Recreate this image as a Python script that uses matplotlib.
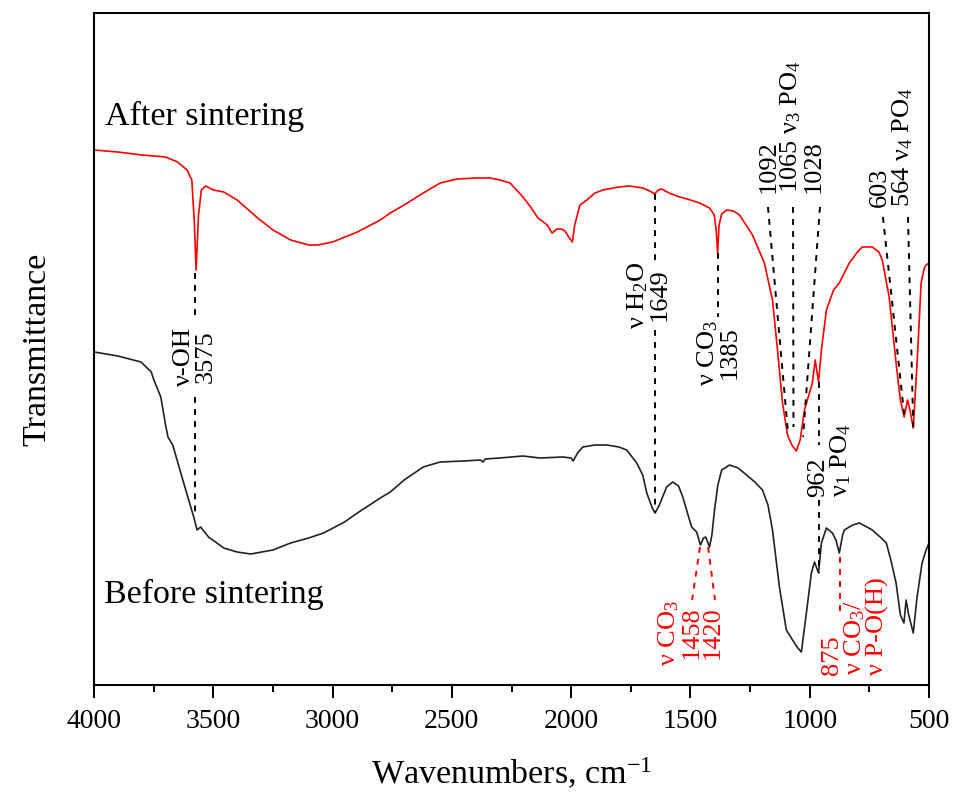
import numpy as np
import matplotlib
matplotlib.use("Agg")
import matplotlib.pyplot as plt
from matplotlib.ticker import MultipleLocator

plt.rcParams['font.family'] = ['Liberation Serif', 'DejaVu Serif']
plt.rcParams['mathtext.fontset'] = 'custom'
plt.rcParams['mathtext.rm'] = 'Liberation Serif'
plt.rcParams['mathtext.it'] = 'Liberation Serif:italic'
plt.rcParams['mathtext.bf'] = 'Liberation Serif:bold'

# FTIR spectra (transmittance in arbitrary units)
after_wn = [4000, 3900, 3800, 3700, 3650, 3610, 3590, 3580, 3572, 3562, 3550, 3532, 3500,
            3456, 3400, 3314, 3250, 3176, 3100, 3063, 3000, 2896, 2800, 2758, 2700, 2620,
            2549, 2478, 2400, 2340, 2300, 2256, 2202, 2170, 2139, 2100, 2080, 2060, 2040,
            2026, 2010, 1995, 1985, 1963, 1934, 1900, 1867, 1800, 1754, 1700, 1670, 1650,
            1635, 1620, 1590, 1545, 1500, 1461, 1420, 1400, 1392, 1386, 1380, 1369, 1348,
            1320, 1294, 1240, 1190, 1156, 1135, 1114, 1093, 1075, 1056, 1040, 1022, 1000,
            989, 977, 963, 951, 930, 900, 876, 834, 800, 780, 738, 710, 696, 667, 638, 620,
            604, 590, 580, 566, 554, 545, 533, 520, 512, 500]
after_t = [535, 533, 530, 528, 523, 515, 505, 465, 415, 470, 495, 499, 495,
           493, 485, 467, 455, 445, 440, 440, 443, 453, 465, 472, 480, 492,
           502, 506, 507, 507, 505, 502, 488, 478, 467, 460, 452, 456, 456,
           454, 448, 443, 460, 480, 485, 492, 495, 498, 499, 497, 494, 491,
           495, 496, 492, 488, 485, 482, 477, 470, 455, 432, 460, 471, 475,
           474, 470, 450, 422, 385, 335, 282, 250, 240, 234, 245, 275, 293,
           302, 325, 303, 335, 375, 395, 402, 422, 433, 438, 438, 433, 425, 388, 322, 285,
           268, 285, 275, 257, 305, 345, 402, 417, 420, 422]

before_wn = [4000, 3950, 3900, 3803, 3760, 3749, 3720, 3700, 3690, 3670, 3624, 3582, 3568,
             3553, 3520, 3456, 3400, 3343, 3250, 3176, 3100, 3038, 2950, 2896, 2800, 2758,
             2700, 2620, 2549, 2450, 2380, 2369, 2360, 2300, 2202, 2131, 2034, 2000, 1992,
             1970, 1951, 1900, 1850, 1800, 1767, 1725, 1700, 1683, 1660, 1648, 1630, 1600,
             1574, 1550, 1532, 1510, 1495, 1474, 1458, 1445, 1436, 1420, 1410, 1399, 1385,
             1369, 1336, 1300, 1265, 1230, 1198, 1175, 1156, 1127, 1098, 1072, 1050, 1035,
             1014, 993, 980, 963, 951, 930, 905, 890, 876, 862, 855, 820, 792, 760, 738, 700,
             679, 660, 638, 620, 605, 596, 585, 566, 550, 529, 512, 500]
before_t = [333, 331, 329, 323, 313, 305, 288, 260, 248, 240, 202, 168, 155,
            158, 148, 137, 133, 131, 135, 142, 147, 152, 163, 172, 187, 193,
            205, 218, 223, 224, 225, 223, 226, 227, 229, 227, 228, 227, 224,
            233, 238, 240, 240, 238, 235, 222, 210, 192, 177, 172, 180, 198,
            203, 199, 188, 170, 158, 153, 140, 147, 148, 138, 150, 175, 200,
            215, 220, 217, 210, 203, 195, 180, 155, 98, 55, 45, 37, 33,
            72, 112, 123, 112, 142, 157, 152, 145, 132, 150, 155, 160, 162, 158, 155, 147,
            142, 125, 102, 70, 62, 85, 70, 52, 88, 122, 135, 142]

fig = plt.figure(figsize=(9.58, 7.94), dpi=100)
ax = fig.add_axes([94 / 958, 109 / 794, 835 / 958, 672 / 794])

ax.plot(after_wn, after_t, color='#ff0000', lw=1.2)
ax.plot(before_wn, before_t, color='#222222', lw=1.2)

ax.set_xlim(4000, 500)
ax.set_ylim(0, 672)
ax.xaxis.set_major_locator(MultipleLocator(500))
ax.xaxis.set_minor_locator(MultipleLocator(250))
ax.tick_params(axis='x', which='major', direction='out', length=9.5, width=1.4,
               labelsize=20, pad=8)
ax.tick_params(axis='x', which='minor', direction='out', length=5, width=1.4)
ax.set_yticks([])
for sp in ax.spines.values():
    sp.set_linewidth(1.5)

ax.set_xlabel('Wavenumbers, cm$^{-1}$', fontsize=24.5, labelpad=16)
ax.set_ylabel('Transmittance', fontsize=24.5, labelpad=30)

dash = dict(ls=(0, (3, 3.2)), lw=1.4)
fs = 19

# sample names
ax.text(3954, 560, 'After sintering', fontsize=24.5, va='baseline', ha='left')
ax.text(3958, 82, 'Before sintering', fontsize=24.5, va='baseline', ha='left')

# black peak labels
ax.plot([3575, 3575], [412, 368], color='k', **dash)
ax.plot([3575, 3575], [288, 168], color='k', **dash)
ax.text(3578, 328, 'ν-OH\n3575', fontsize=fs, rotation=90, ha='center', va='center',
        multialignment='center', linespacing=0.95)

ax.plot([1649, 1649], [491, 420], color='k', **dash)
ax.plot([1649, 1649], [355, 172], color='k', **dash)
ax.text(1678, 390, 'ν H$_2$O\n1649', fontsize=fs, rotation=90, ha='center', va='center',
        multialignment='center', linespacing=0.95)

ax.plot([1385, 1385], [432, 368], color='k', **dash)
ax.text(1384, 332, 'ν CO$_3$\n1385', fontsize=fs, rotation=90, ha='center', va='center',
        multialignment='center', linespacing=0.95)

ax.plot([1175, 1092], [478, 255], color='k', **dash)
ax.plot([1070, 1068], [478, 258], color='k', **dash)
ax.plot([957, 1028], [478, 248], color='k', **dash)
ax.text(1078, 492, '1092\n1065 ν$_3$ PO$_4$\n1028', fontsize=fs, rotation=90,
        ha='center', va='bottom', multialignment='left', linespacing=0.95)

ax.plot([693, 603], [468, 268], color='k', **dash)
ax.plot([588, 566], [468, 258], color='k', **dash)
ax.text(655, 478, '603\n564 ν$_4$ PO$_4$', fontsize=fs, rotation=90,
        ha='center', va='bottom', multialignment='left', linespacing=0.95)

ax.plot([962, 962], [303, 240], color='k', **dash)
ax.plot([962, 962], [185, 112], color='k', **dash)
ax.text(915, 188, '962\nν$_1$ PO$_4$', fontsize=fs, rotation=90,
        ha='center', va='bottom', multialignment='left', linespacing=0.95)

# red peak labels
ax.plot([1460, 1493], [138, 85], color='#ff0000', **dash)
ax.plot([1426, 1397], [138, 85], color='#ff0000', **dash)
ax.text(1502, 52, 'ν CO$_3$\n1458\n1420', fontsize=fs, rotation=90, color='#ff0000',
        ha='center', va='center', multialignment='center', linespacing=0.95)

ax.plot([875, 875], [128, 72], color='#ff0000', **dash)
ax.text(810, 10, '875\nν CO$_3$/\nν P-O(H)', fontsize=fs, rotation=90, color='#ff0000',
        ha='center', va='bottom', multialignment='left', linespacing=0.95)

fig.savefig('out.png', dpi=100)
